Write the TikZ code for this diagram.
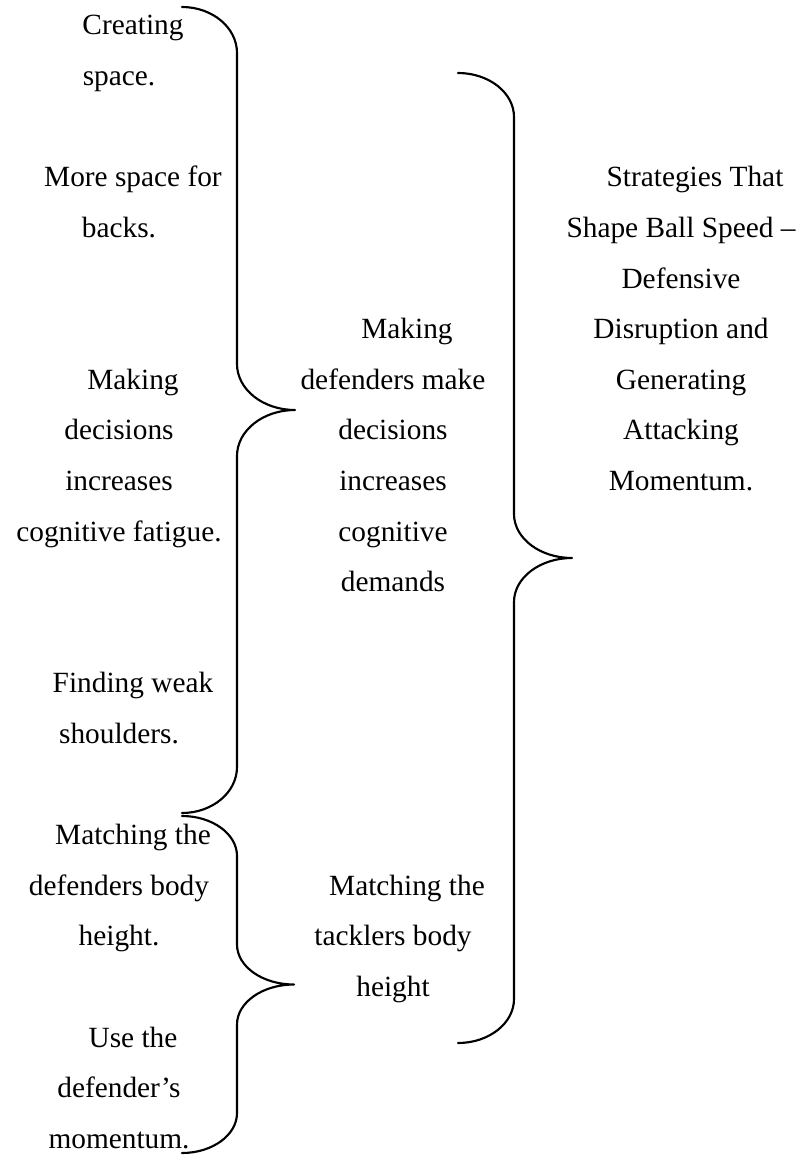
\documentclass[tikz,border=0pt]{standalone}
\usepackage{fontspec}
\setmainfont{Liberation Serif}
% indent of the first line of each centred paragraph
\newcommand\firstind{\hspace*{21pt}}
% right-pointing curly brace: left end x, stem x, tip x, top y, bottom y, curve height
\newcommand\rightbrace[6]{%
  \draw[bracestyle] (#1,#4)
    arc[start angle=-90, end angle=0, x radius={#2-#1}, y radius=#6]
    -- ({#2},{(#4+#5)/2-#6})
    arc[start angle=180, end angle=90, x radius={#3-#2}, y radius=#6]
    arc[start angle=-90, end angle=-180, x radius={#3-#2}, y radius=#6]
    -- ({#2},{#5-#6})
    arc[start angle=0, end angle=90, x radius={#2-#1}, y radius=#6];}
\begin{document}
\begin{tikzpicture}[x=0.75pt, y=-0.75pt,
  txt/.style={font=\fontsize{22}{37.95}\selectfont, align=center, inner sep=0pt, anchor=base},
  bracestyle/.style={line width=1.6pt, line join=round, line cap=round}]
\useasboundingbox (0,0) rectangle (807,1155);

% left column (nodes placed at the baseline of their last line)
\node[txt] (space)    at (119,85.6)   {\firstind Creating\\space.};
\node[txt] (backs)    at (119,237.4)  {\firstind More space for\\backs.};
\node[txt] (fatigue)  at (119,541)    {\firstind Making\\decisions\\increases\\cognitive fatigue.};
\node[txt] (shoulder) at (119,743.4)  {\firstind Finding weak\\shoulders.};
\node[txt] (defbody)  at (119,945.8)  {\firstind Matching the\\defenders body\\height.};
\node[txt] (momentum) at (119,1148.2) {\firstind Use the\\defender’s\\momentum.};

% middle column
\node[txt] (demands)  at (393,591.6)  {\firstind Making\\defenders make\\decisions\\increases\\cognitive\\demands};
\node[txt] (tackler)  at (393,996.4)  {\firstind Matching the\\tacklers body\\height};

% right column
\node[txt] (strategy) at (681,490.4)  {\firstind Strategies That\\Shape Ball Speed –\\Defensive\\Disruption and\\Generating\\Attacking\\Momentum.};

% braces
\rightbrace{182}{237}{295}{7}{813}{46}
\rightbrace{182}{237}{294}{816}{1153}{40}
\rightbrace{458}{514}{572}{73}{1043}{44}
\end{tikzpicture}
\end{document}
